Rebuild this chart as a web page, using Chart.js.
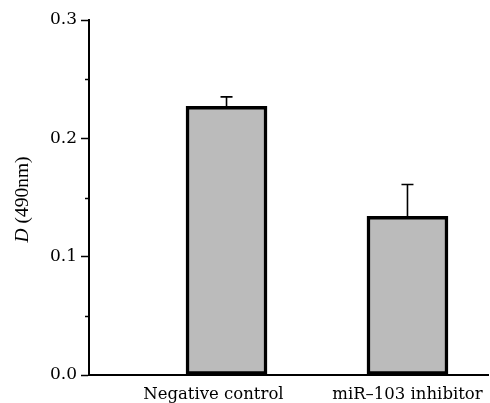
<!DOCTYPE html>
<html>
<head>
<meta charset="utf-8">
<script src="https://cdn.jsdelivr.net/npm/chart.js@4/dist/chart.umd.min.js"></script>
<style>
  html, body { margin: 0; padding: 0; background: #fff; }
  #wrap { width: 490px; height: 403px; position: relative; }
</style>
</head>
<body>
<div id="wrap"><canvas id="chart"></canvas></div>
<script>
// data
const categories = ["Negative control", "miR\u2013103 inhibitor"];
const means = [0.227, 0.134];
const sems = [0.008, 0.027];
const yMajor = [0, 0.1, 0.2, 0.3];
const yMinor = [0.05, 0.15, 0.25];

const serif = "'DejaVu Serif', serif";

// error bars (upper only), drawn through the scales
const errorBars = {
  id: "errorBars",
  afterDatasetsDraw(chart) {
    const ctx = chart.ctx;
    const x = chart.scales.x, y = chart.scales.y;
    ctx.save();
    ctx.strokeStyle = "#000";
    ctx.lineWidth = 1.6;
    means.forEach((m, i) => {
      const px = x.getPixelForValue(i);
      const top = y.getPixelForValue(m + sems[i]);
      const base = y.getPixelForValue(m);
      ctx.beginPath();
      ctx.moveTo(px, base);
      ctx.lineTo(px, top);
      ctx.moveTo(px - 6, top);
      ctx.lineTo(px + 6, top);
      ctx.stroke();
    });
    ctx.restore();
  },
};

// minor ticks + y title with italic D
const extras = {
  id: "extras",
  afterDraw(chart) {
    const ctx = chart.ctx;
    const y = chart.scales.y;
    const left = chart.chartArea.left;
    ctx.save();
    ctx.strokeStyle = "#000";
    ctx.lineWidth = 1.5;
    yMinor.forEach((v) => {
      const py = Math.round(y.getPixelForValue(v)) + 0.5;
      ctx.beginPath();
      ctx.moveTo(left - 4, py);
      ctx.lineTo(left, py);
      ctx.stroke();
    });

    const cy = (chart.chartArea.top + chart.chartArea.bottom) / 2 + 2;
    ctx.translate(23, cy);
    ctx.rotate(-Math.PI / 2);
    ctx.fillStyle = "#000";
    ctx.textBaseline = "middle";
    const f1 = "italic 19.5px 'Liberation Serif', serif";
    const f2 = "19.5px 'Liberation Serif', serif";
    ctx.font = f1;
    const w1 = ctx.measureText("D").width;
    ctx.font = f2;
    const w2 = ctx.measureText(" (490nm)").width;
    let sx = -(w1 + w2) / 2;
    ctx.font = f1;
    ctx.fillText("D", sx, 0);
    ctx.font = f2;
    ctx.fillText(" (490nm)", sx + w1, 0);
    ctx.restore();
  },
};

new Chart(document.getElementById("chart"), {
  type: "bar",
  data: {
    datasets: [
      {
        data: means.map((m, i) => ({ x: i, y: m })),
        backgroundColor: "#bbbbbb",
        borderColor: "#000",
        borderWidth: 3.5,
        borderSkipped: false,
        barThickness: 81,
      },
    ],
  },
  plugins: [errorBars, extras],
  options: {
    responsive: true,
    maintainAspectRatio: false,
    animation: false,
    layout: { padding: { top: 20, right: 2, left: 0, bottom: 0 } },
    plugins: { legend: { display: false }, tooltip: { enabled: false } },
    scales: {
      x: {
        type: "linear",
        offset: false,
        bounds: "data",
        min: -0.76,
        max: 1.445,
        afterBuildTicks(scale) {
          scale.ticks = categories.map((_, i) => ({ value: i }));
        },
        afterFit(scale) {
          scale.height = 28;
          scale.paddingLeft = 0;
          scale.paddingRight = 0;
        },
        grid: { display: false, drawTicks: false, offset: false },
        border: { color: "#000", width: 2 },
        ticks: {
          autoSkip: false,
          maxRotation: 0,
          padding: 10,
          color: "#000",
          font: { family: serif, size: 16.5 },
          callback(v) {
            // first label sits a little left of its bar in the original
            return v === 0 ? categories[v] + "\u00a0\u00a0\u00a0\u00a0\u00a0" : categories[v];
          },
        },
      },
      y: {
        min: 0,
        max: 0.3,
        afterBuildTicks(scale) {
          scale.ticks = yMajor.map((v) => ({ value: v }));
        },
        afterFit(scale) {
          scale.width = 89;
          scale.paddingTop = 0;
          scale.paddingBottom = 0;
        },
        grid: { drawOnChartArea: false, tickLength: 8, tickWidth: 1.5, tickColor: "#000" },
        border: { color: "#000", width: 2 },
        ticks: {
          padding: 4,
          color: "#000",
          font: { family: serif, size: 17 },
          callback(v) {
            return v.toFixed(1);
          },
        },
      },
    },
  },
});
</script>
</body>
</html>
